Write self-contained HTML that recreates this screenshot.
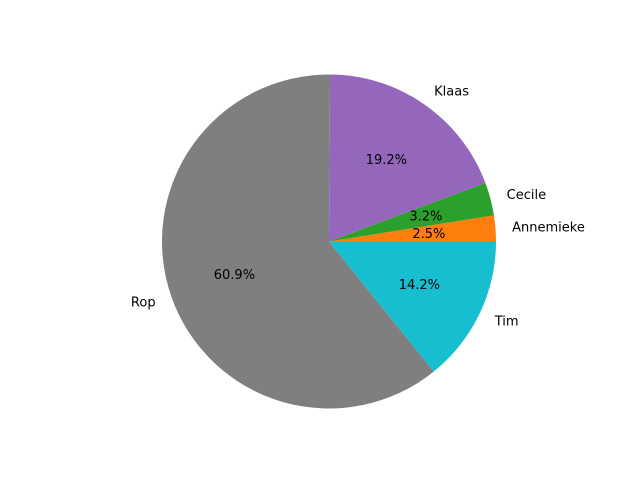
<!DOCTYPE html>
<html><head><meta charset="utf-8"><style>
html,body{margin:0;padding:0;background:#fff;}
svg{display:block;font-family:"DejaVu Sans","Liberation Sans",sans-serif;}
</style></head><body>
<svg id="chart" width="640" height="480" viewBox="0 0 640 480">
<rect width="640" height="480" fill="#fff"/>
</svg>
<script>
const categories = ["Annemieke","Cecile","Klaas","Rop","Tim"];
const values = [2.5, 3.2, 19.2, 60.9, 14.2];
const colors = ["#ff7f0e","#2ca02c","#9467bd","#7f7f7f","#17becf"];
const svg = document.getElementById('chart');
const NS = 'http://www.w3.org/2000/svg';
const cx = 329, cy = 241.5, r = 167;
const total = values.reduce((a,b)=>a+b,0);
function pt(angleDeg, rad){ const a = angleDeg*Math.PI/180; return [cx + rad*Math.cos(a), cy - rad*Math.sin(a)]; }
let start = 0;
values.forEach((v,i)=>{
  const sweep = v/total*360;
  const end = start + sweep;
  const [x1,y1] = pt(start,r), [x2,y2] = pt(end,r);
  const p = document.createElementNS(NS,'path');
  p.setAttribute('d',`M${cx},${cy} L${x1},${y1} A${r},${r} 0 ${sweep>180?1:0} 0 ${x2},${y2} Z`);
  p.setAttribute('fill',colors[i]);
  
  
  svg.appendChild(p);
  const mid = start + sweep/2;
  const [lx,ly] = pt(mid, r*1.1);
  const t = document.createElementNS(NS,'text');
  t.setAttribute('x',lx); t.setAttribute('y',ly+1);
  t.setAttribute('font-size','13'); t.setAttribute('dominant-baseline','central');
  t.setAttribute('text-anchor', Math.cos(mid*Math.PI/180) >= 0 ? 'start' : 'end');
  t.textContent = categories[i];
  
  
  svg.appendChild(t);
  const [px,py] = pt(mid, r*0.6);
  const q = document.createElementNS(NS,'text');
  q.setAttribute('x',px); q.setAttribute('y',py+1);
  q.setAttribute('font-size','13'); q.setAttribute('dominant-baseline','central');
  q.setAttribute('text-anchor','middle');
  q.textContent = v.toFixed(1)+'%';
  
  
  svg.appendChild(q);
  start = end;
});
</script>
</body></html>
